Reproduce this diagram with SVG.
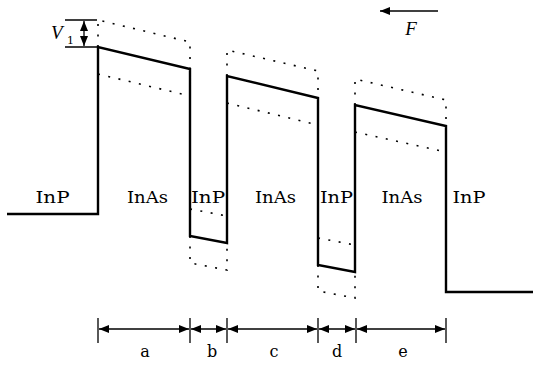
<svg xmlns="http://www.w3.org/2000/svg" width="533" height="365" viewBox="0 0 533 365">
<style>
.band{fill:none;stroke:#000;stroke-width:2.4;stroke-linejoin:miter}
.dot{fill:none;stroke:#000;stroke-width:1.6;stroke-dasharray:2 8.5}
.thin{fill:none;stroke:#000;stroke-width:1.3}
.lbl{font-family:'DejaVu Serif','Liberation Serif',serif;font-size:16px;fill:#000}
.it{font-family:'Liberation Serif','DejaVu Serif',serif;font-style:italic;font-size:19px;fill:#000}
.sub{font-family:'DejaVu Serif','Liberation Serif',serif;font-size:11px;fill:#000}
</style>
<defs>
<marker id="ah" markerUnits="userSpaceOnUse" viewBox="0 0 10 8" refX="10" refY="4" markerWidth="10" markerHeight="8" orient="auto-start-reverse">
<path d="M0,0 L10,4 L0,8 z" fill="#000"/>
</marker>
</defs>
<g id="band">
<path class="band" d="M7,214 H98 V47 L190,69 V236 L227,243 V76 L318,98 V265 L355,272 V105 L446,126 V292 H533"/>
</g>
<g id="shifted">
<path class="dot" d="M98,47 V20 L190,42 V69"/>
<path class="dot" d="M98,74 L190,96"/>
<path class="dot" d="M227,76 V50 L318,71 V98"/>
<path class="dot" d="M227,103 L318,125"/>
<path class="dot" d="M355,105 V79 L446,100 V126"/>
<path class="dot" d="M355,132 L446,152"/>
<path class="dot" d="M190,209 L227,216"/>
<path class="dot" d="M190,236 V263 L227,270 V243"/>
<path class="dot" d="M318,238 L355,245"/>
<path class="dot" d="M318,265 V291 L355,298 V272"/>
</g>
<g id="v1">
<path class="thin" d="M65,20 H97 M65,47 H98"/>
<path class="thin" d="M84,21 V46" marker-start="url(#ah)" marker-end="url(#ah)"/>
<text class="it" x="51" y="39">V</text>
<text class="sub" x="67" y="44">1</text>
</g>
<g id="field">
<path class="thin" d="M438,11 H380" marker-end="url(#ah)"/>
<text class="it" x="411" y="35" text-anchor="middle">F</text>
</g>
<g id="labels">
<text class="lbl" x="52.5" y="203" text-anchor="middle" textLength="34" lengthAdjust="spacingAndGlyphs">InP</text>
<text class="lbl" x="147.5" y="203" text-anchor="middle" textLength="41" lengthAdjust="spacingAndGlyphs">InAs</text>
<text class="lbl" x="208" y="203" text-anchor="middle" textLength="34" lengthAdjust="spacingAndGlyphs">InP</text>
<text class="lbl" x="275.5" y="203" text-anchor="middle" textLength="41" lengthAdjust="spacingAndGlyphs">InAs</text>
<text class="lbl" x="336.5" y="203" text-anchor="middle" textLength="33" lengthAdjust="spacingAndGlyphs">InP</text>
<text class="lbl" x="402" y="203" text-anchor="middle" textLength="41" lengthAdjust="spacingAndGlyphs">InAs</text>
<text class="lbl" x="469" y="203" text-anchor="middle" textLength="33" lengthAdjust="spacingAndGlyphs">InP</text>
</g>
<g id="dimensions">
<path class="thin" d="M98,318 V343 M190,318 V343 M227,318 V343 M318,318 V343 M356,318 V343 M446,318 V343"/>
<path class="thin" d="M99,329 H189" marker-start="url(#ah)" marker-end="url(#ah)"/>
<path class="thin" d="M191,329 H226" marker-start="url(#ah)" marker-end="url(#ah)"/>
<path class="thin" d="M228,329 H317" marker-start="url(#ah)" marker-end="url(#ah)"/>
<path class="thin" d="M319,329 H355" marker-start="url(#ah)" marker-end="url(#ah)"/>
<path class="thin" d="M357,329 H445" marker-start="url(#ah)" marker-end="url(#ah)"/>
<text class="lbl" x="145" y="357" text-anchor="middle">a</text>
<text class="lbl" x="212" y="357" text-anchor="middle">b</text>
<text class="lbl" x="274" y="357" text-anchor="middle">c</text>
<text class="lbl" x="337" y="357" text-anchor="middle">d</text>
<text class="lbl" x="403" y="357" text-anchor="middle">e</text>
</g>
</svg>
